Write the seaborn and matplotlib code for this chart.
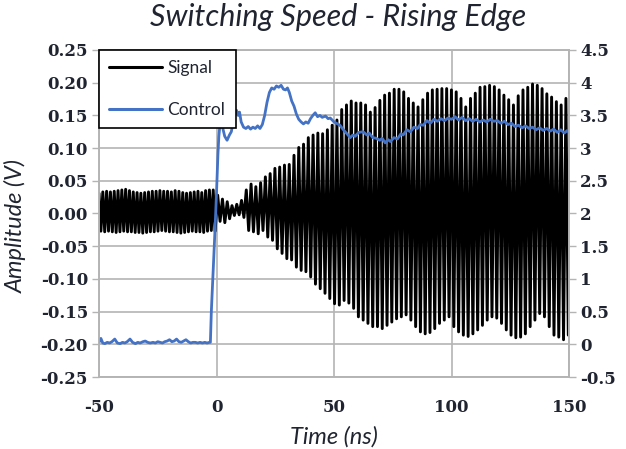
import matplotlib
matplotlib.use("Agg")
import matplotlib.pyplot as plt
import seaborn as sns
from matplotlib.lines import Line2D

# Signal before the switch: one peak per cycle (V)
pre_start = -50.0
pre_period = 1.62
pre_tops = [0.031, 0.033, 0.034, 0.033, 0.034, 0.035, 0.036, 0.037, 0.035, 0.033,
            0.032, 0.031, 0.032, 0.033, 0.034, 0.034, 0.035, 0.034, 0.034, 0.033,
            0.035, 0.034, 0.032, 0.031, 0.032, 0.033, 0.034, 0.032, 0.035, 0.036, 0.036]
pre_bottoms = [-0.027, -0.028, -0.027, -0.028, -0.029, -0.028, -0.027, -0.028, -0.028, -0.029,
               -0.029, -0.030, -0.029, -0.028, -0.028, -0.027, -0.026, -0.027, -0.028, -0.028,
               -0.029, -0.030, -0.029, -0.028, -0.027, -0.028, -0.028, -0.029, -0.027, -0.026, -0.027]

# Signal after the switch
post_start = 0.5
post_period = 2.03
post_tops = [0.028, 0.022, 0.018, 0.012, 0.014, 0.020, 0.036, 0.045, 0.041, 0.047,
             0.056, 0.061, 0.069, 0.071, 0.074, 0.075, 0.089, 0.101, 0.106, 0.116,
             0.120, 0.123, 0.122, 0.128, 0.135, 0.143, 0.159, 0.166, 0.172, 0.169,
             0.169, 0.166, 0.155, 0.162, 0.173, 0.181, 0.184, 0.190, 0.190, 0.186,
             0.176, 0.169, 0.163, 0.174, 0.184, 0.189, 0.190, 0.191, 0.191, 0.189,
             0.186, 0.176, 0.163, 0.176, 0.184, 0.193, 0.194, 0.196, 0.194, 0.189,
             0.181, 0.174, 0.166, 0.180, 0.189, 0.193, 0.198, 0.196, 0.191, 0.183,
             0.178, 0.171, 0.166, 0.176, 0.189]
post_bottoms = [-0.012, -0.014, -0.008, -0.003, -0.002, -0.006, -0.026, -0.028, -0.031, -0.026,
                -0.036, -0.041, -0.054, -0.061, -0.069, -0.071, -0.082, -0.087, -0.089, -0.097,
                -0.108, -0.115, -0.122, -0.130, -0.138, -0.140, -0.133, -0.137, -0.145, -0.158,
                -0.163, -0.168, -0.173, -0.173, -0.176, -0.171, -0.166, -0.161, -0.158, -0.155,
                -0.163, -0.173, -0.181, -0.184, -0.182, -0.176, -0.168, -0.163, -0.158, -0.173,
                -0.181, -0.186, -0.188, -0.184, -0.178, -0.171, -0.163, -0.158, -0.160, -0.168,
                -0.178, -0.186, -0.190, -0.189, -0.184, -0.173, -0.163, -0.153, -0.158, -0.173,
                -0.186, -0.189, -0.193, -0.186, -0.181]

# Control voltage (right axis)
control_time = [-50, -49.2, -48.4, -47.5, -46.5, -45.5, -44.5, -43.3, -42.2, -41, -40, -39, -38,
                -36.8, -35.7, -34.5, -33.5, -32.5, -31.3, -30.3, -29.3, -28.2, -27, -26, -25,
                -24, -23, -22, -21, -20, -19, -18, -17, -16, -15, -14, -13, -12, -11, -10, -9,
                -8, -7, -6, -5, -4, -3, -2.6, -2.2, -1.45, -0.7, 0.05, 0.6, 1.0, 1.4, 2.0, 2.7,
                3.5, 4.5, 5.5, 6.3, 7.0, 7.8, 8.5, 9.2, 9.8, 10.5, 11.5, 12.5, 13.5, 14.5, 15.5,
                16.5, 17.5, 18.5, 19.5, 20.5, 21.5, 22.5, 23.5, 24.5, 25.5, 26.5, 27.5, 28.5,
                29.4, 30.2, 31, 32, 33, 34, 35, 36, 37, 38, 39, 40, 41, 42, 43, 44, 45, 46.4,
                47.5, 48.4, 50, 51, 52.5, 54, 55.5, 56.9, 58, 59, 60.5, 62.4, 64, 65, 66.5, 68,
                69.5, 70.5, 71.8, 73, 74, 75.5, 77, 78.5, 79.4, 81, 82.5, 84, 85.5, 86.7, 88,
                89.5, 91, 92.5, 94, 95.5, 97, 98.5, 100, 101.5, 103, 104.5, 106, 107.5, 109,
                110.5, 112, 113.5, 115, 116.5, 118, 119.5, 121, 122.5, 124, 125.5, 127, 128.5,
                130, 131.5, 133, 134.5, 136, 137.5, 139, 140.5, 142, 143.5, 145, 146.5, 148,
                149.3, 150]
control_volts = [0.03, 0.09, 0.02, 0.01, 0.03, 0.02, 0.04, 0.08, 0.02, 0.01, 0.03, 0.02, 0.04,
                 0.08, 0.03, 0.01, 0.03, 0.02, 0.04, 0.05, 0.03, 0.02, 0.03, 0.02, 0.04,
                 0.03, 0.02, 0.04, 0.05, 0.07, 0.04, 0.05, 0.08, 0.04, 0.03, 0.05, 0.07, 0.04,
                 0.02, 0.03, 0.03, 0.02, 0.03, 0.02, 0.03, 0.02, 0.03, 0.03, 0.5, 1.09, 1.7,
                 2.36, 2.9, 3.18, 3.33, 3.42, 3.3, 3.18, 3.12, 3.2, 3.25, 3.38, 3.52, 3.58, 3.5,
                 3.55, 3.4, 3.32, 3.3, 3.33, 3.29, 3.32, 3.3, 3.34, 3.3, 3.36, 3.5, 3.7, 3.85,
                 3.92, 3.9, 3.95, 3.93, 3.96, 3.9, 3.89, 3.92, 3.85, 3.72, 3.64, 3.52, 3.44,
                 3.4, 3.37, 3.4, 3.38, 3.45, 3.5, 3.54, 3.48, 3.5, 3.47, 3.49, 3.45, 3.46, 3.4,
                 3.38, 3.35, 3.28, 3.22, 3.16, 3.2, 3.18, 3.24, 3.25, 3.2, 3.23, 3.16, 3.15,
                 3.12, 3.15, 3.08, 3.13, 3.1, 3.16, 3.14, 3.22, 3.2, 3.28, 3.25, 3.32, 3.3,
                 3.36, 3.35, 3.42, 3.38, 3.44, 3.41, 3.45, 3.42, 3.46, 3.44, 3.48, 3.43, 3.47,
                 3.42, 3.45, 3.41, 3.44, 3.4, 3.43, 3.4, 3.44, 3.41, 3.42, 3.38, 3.41, 3.36,
                 3.38, 3.33, 3.35, 3.31, 3.34, 3.3, 3.32, 3.28, 3.31, 3.27, 3.3, 3.26, 3.29,
                 3.24, 3.28, 3.23, 3.27, 3.24]

x_ticks = [-50, 0, 50, 100, 150]
left_ticks = [-0.25, -0.20, -0.15, -0.10, -0.05, 0.00, 0.05, 0.10, 0.15, 0.20, 0.25]
right_ticks = [-0.5, 0, 0.5, 1, 1.5, 2, 2.5, 3, 3.5, 4, 4.5]
right_labels = ["-0.5", "0", "0.5", "1", "1.5", "2", "2.5", "3", "3.5", "4", "4.5"]


def peaks_to_line(start, period, tops, bottoms):
    # one top and one bottom per cycle, joined in time order
    t, v = [], []
    for i, (hi, lo) in enumerate(zip(tops, bottoms)):
        t += [start + i * period, start + (i + 0.5) * period]
        v += [hi, lo]
    return t, v


t1, v1 = peaks_to_line(pre_start, pre_period, pre_tops, pre_bottoms)
t2, v2 = peaks_to_line(post_start, post_period, post_tops, post_bottoms)
sig_t = t1 + t2
sig_v = v1 + v2

sns.set_theme(style="white")
plt.rcParams["axes.unicode_minus"] = False
grid_col = "#b4b4b4"
text_col = "#1f2430"
blue = "#4472C4"
label_font = "Lato"

fig = plt.figure(figsize=(6.26, 4.49), dpi=100)
ax = fig.add_axes([99 / 626, 1 - 377 / 449, 470 / 626, 327 / 449])
ax2 = ax.twinx()

sns.lineplot(x=sig_t, y=sig_v, ax=ax, color="black", lw=2.1,
             estimator=None, sort=False)
sns.lineplot(x=control_time, y=control_volts, ax=ax2, color=blue, lw=2.0,
             estimator=None, sort=False)

ax.set_xlim(-50, 150)
ax.set_ylim(-0.25, 0.25)
ax2.set_ylim(-0.5, 4.5)

ax.set_xticks(x_ticks)
ax.set_xticklabels([str(v) for v in x_ticks])
ax.set_yticks(left_ticks)
ax.set_yticklabels([f"{v:.2f}" for v in left_ticks])
ax2.set_yticks(right_ticks)
ax2.set_yticklabels(right_labels)

ax.grid(True, color=grid_col, lw=1.2)
ax.set_axisbelow(True)
for a in (ax, ax2):
    for s in a.spines.values():
        s.set_color(grid_col)
        s.set_linewidth(1.2)
    a.tick_params(direction="out", length=5, width=1, color=grid_col,
                  labelcolor=text_col, pad=3)
    for lbl in a.get_xticklabels() + a.get_yticklabels():
        lbl.set_fontfamily("DejaVu Serif")
        lbl.set_fontweight("bold")
        lbl.set_fontsize(12)
ax.tick_params(axis="x", pad=11)
ax.set_xlabel("")
ax.set_ylabel("")
ax2.set_ylabel("")

fig.text(338 / 626, 1 - 17 / 449, "Switching Speed - Rising Edge", ha="center", va="center",
         fontsize=22, style="italic", family=label_font, color=text_col)
fig.text(16 / 626, 1 - 226 / 449, "Amplitude (V)", ha="center", va="center", rotation=90,
         fontsize=17, style="italic", family=label_font, color=text_col)
fig.text(334 / 626, 1 - 437 / 449, "Time (ns)", ha="center", va="center",
         fontsize=17, style="italic", family=label_font, color=text_col)

handles = [Line2D([], [], color="black", lw=2.2), Line2D([], [], color=blue, lw=2.2)]
leg = ax2.legend(handles, ["Signal", "Control"], loc="upper left", bbox_to_anchor=(0, 1),
                 borderaxespad=0, frameon=True, fancybox=False, framealpha=1,
                 edgecolor="black", handlelength=3.05, labelspacing=1.45,
                 borderpad=0.6, handletextpad=0.3,
                 prop={"family": label_font, "size": 12.5})
leg.get_frame().set_linewidth(1.2)
for txt in leg.get_texts():
    txt.set_color(text_col)

fig.savefig("out.png", dpi=100)
